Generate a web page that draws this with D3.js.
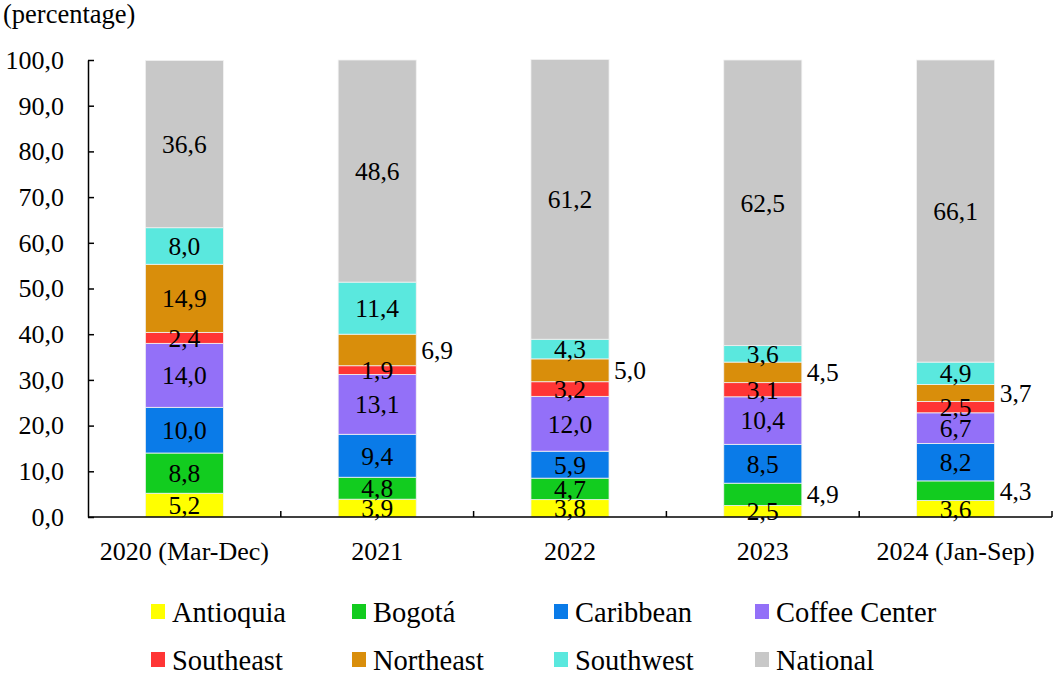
<!DOCTYPE html>
<html>
<head>
<meta charset="utf-8">
<script src="https://cdn.jsdelivr.net/npm/d3@7"></script>
<style>
  body { margin: 0; background: #fff; }
  svg text { font-family: "Liberation Serif", "Times New Roman", serif; fill: #000; }
</style>
</head>
<body>
<svg id="chart" width="1057" height="677"></svg>
<script>
// Share of total by region, per period (percentage)
const categories = ["2020 (Mar-Dec)", "2021", "2022", "2023", "2024 (Jan-Sep)"];
const seriesNames = ["Antioquia", "Bogotá", "Caribbean", "Coffee Center", "Southeast", "Northeast", "Southwest", "National"];
const antioquia    = [5.2, 3.9, 3.8, 2.5, 3.6];
const bogota       = [8.8, 4.8, 4.7, 4.9, 4.3];
const caribbean    = [10.0, 9.4, 5.9, 8.5, 8.2];
const coffeeCenter = [14.0, 13.1, 12.0, 10.4, 6.7];
const southeast    = [2.4, 1.9, 3.2, 3.1, 2.5];
const northeast    = [14.9, 6.9, 5.0, 4.5, 3.7];
const southwest    = [8.0, 11.4, 4.3, 3.6, 4.9];
const national     = [36.6, 48.6, 61.2, 62.5, 66.1];
const yTicks = [0, 10, 20, 30, 40, 50, 60, 70, 80, 90, 100];
// Labels placed beside the bar instead of inside it: [series, category]
const outsideLabels = [["Northeast", "2021"], ["Northeast", "2022"], ["Bogotá", "2023"],
                       ["Northeast", "2023"], ["Bogotá", "2024 (Jan-Sep)"], ["Northeast", "2024 (Jan-Sep)"]];

const colors = {
  "Antioquia": "#ffff00",
  "Bogotá": "#12cc1f",
  "Caribbean": "#0a7be8",
  "Coffee Center": "#9370f8",
  "Southeast": "#ff3535",
  "Northeast": "#d98e0b",
  "Southwest": "#5ae8de",
  "National": "#c8c8c8"
};

const valuesBySeries = {
  "Antioquia": antioquia, "Bogotá": bogota, "Caribbean": caribbean,
  "Coffee Center": coffeeCenter, "Southeast": southeast, "Northeast": northeast,
  "Southwest": southwest, "National": national
};

const rows = categories.map((c, i) => {
  const r = { category: c };
  seriesNames.forEach(s => r[s] = valuesBySeries[s][i]);
  return r;
});

const FONT = "Liberation Serif";
const svg = d3.select("#chart");
const margin = { left: 88, right: 1052, top: 60, bottom: 517 };

const x = d3.scaleBand().domain(categories).range([margin.left, margin.right]).paddingInner(0).paddingOuter(0);
const y = d3.scaleLinear().domain([0, 100]).range([margin.bottom, margin.top]);
const barW = x.bandwidth() * 0.405;

const fmt = v => d3.format(".1f")(v).replace(".", ",");

const stacked = d3.stack().keys(seriesNames)(rows);

// Bars
const layers = svg.append("g").selectAll("g").data(stacked).join("g")
  .attr("fill", d => colors[d.key]);

layers.selectAll("rect").data(d => d.map(p => ({ key: d.key, p }))).join("rect")
  .attr("x", d => x(d.p.data.category) + (x.bandwidth() - barW) / 2)
  .attr("width", barW)
  .attr("y", d => y(d.p[1]))
  .attr("height", d => y(d.p[0]) - y(d.p[1]))
  .attr("stroke", "#f2f2f2")
  .attr("stroke-width", 0.8);

// Value labels
const isOutside = (s, c) => outsideLabels.some(o => o[0] === s && o[1] === c);
const labelG = svg.append("g").attr("font-size", 25.5).attr("font-family", FONT);
stacked.forEach(layer => {
  layer.forEach(p => {
    const c = p.data.category;
    const v = p.data[layer.key];
    const cy = y((p[0] + p[1]) / 2);
    const out = isOutside(layer.key, c);
    labelG.append("text")
      .attr("x", out ? x(c) + x.bandwidth() / 2 + barW / 2 + 5 : x(c) + x.bandwidth() / 2)
      .attr("y", cy)
      .attr("dy", "0.35em")
      .attr("text-anchor", out ? "start" : "middle")
      .text(fmt(v));
  });
});

// Y axis
const yAxis = d3.axisLeft(y).tickValues(yTicks).tickSizeInner(-6).tickSizeOuter(0).tickPadding(24).tickFormat(fmt);
const gy = svg.append("g").attr("transform", `translate(${margin.left},0)`).call(yAxis)
  .attr("font-family", FONT);
gy.select(".domain").attr("stroke", "#000").attr("stroke-width", 1.5);
gy.selectAll(".tick line").attr("stroke", "#000").attr("stroke-width", 1.5);
gy.selectAll(".tick text").attr("font-size", 26).attr("font-family", FONT);

// X axis with ticks at band boundaries
const gx = svg.append("g").attr("transform", `translate(0,${margin.bottom})`);
gx.append("line").attr("x1", margin.left).attr("x2", margin.right).attr("stroke", "#000").attr("stroke-width", 1.5);
const bounds = categories.slice(1).map(c => x(c)).concat([margin.right]);
gx.selectAll("line.tk").data(bounds).join("line").attr("class", "tk")
  .attr("x1", d => d).attr("x2", d => d).attr("y1", 0).attr("y2", -6)
  .attr("stroke", "#000").attr("stroke-width", 1.5);
gx.selectAll("text").data(categories).join("text")
  .attr("x", d => x(d) + x.bandwidth() / 2)
  .attr("y", 43)
  .attr("text-anchor", "middle")
  .attr("font-size", 26)
  .attr("font-family", FONT)
  .text(d => d);

// Unit label
svg.append("text").attr("x", 3).attr("y", 23).attr("font-size", 26.5).attr("font-family", FONT).text("(percentage)");

// Legend
const legendX = [151, 352, 554, 755];
const legendY = [612, 660];
const lg = svg.append("g").attr("font-family", FONT);
seriesNames.forEach((s, i) => {
  const col = i % 4, row = Math.floor(i / 4);
  const g = lg.append("g").attr("transform", `translate(${legendX[col]},${legendY[row]})`);
  g.append("rect").attr("x", 0).attr("y", -8).attr("width", 14).attr("height", 15).attr("fill", colors[s]);
  g.append("text").attr("x", 21).attr("y", 0).attr("dy", "0.35em").attr("font-size", 28.5).text(s);
});
</script>
</body>
</html>
